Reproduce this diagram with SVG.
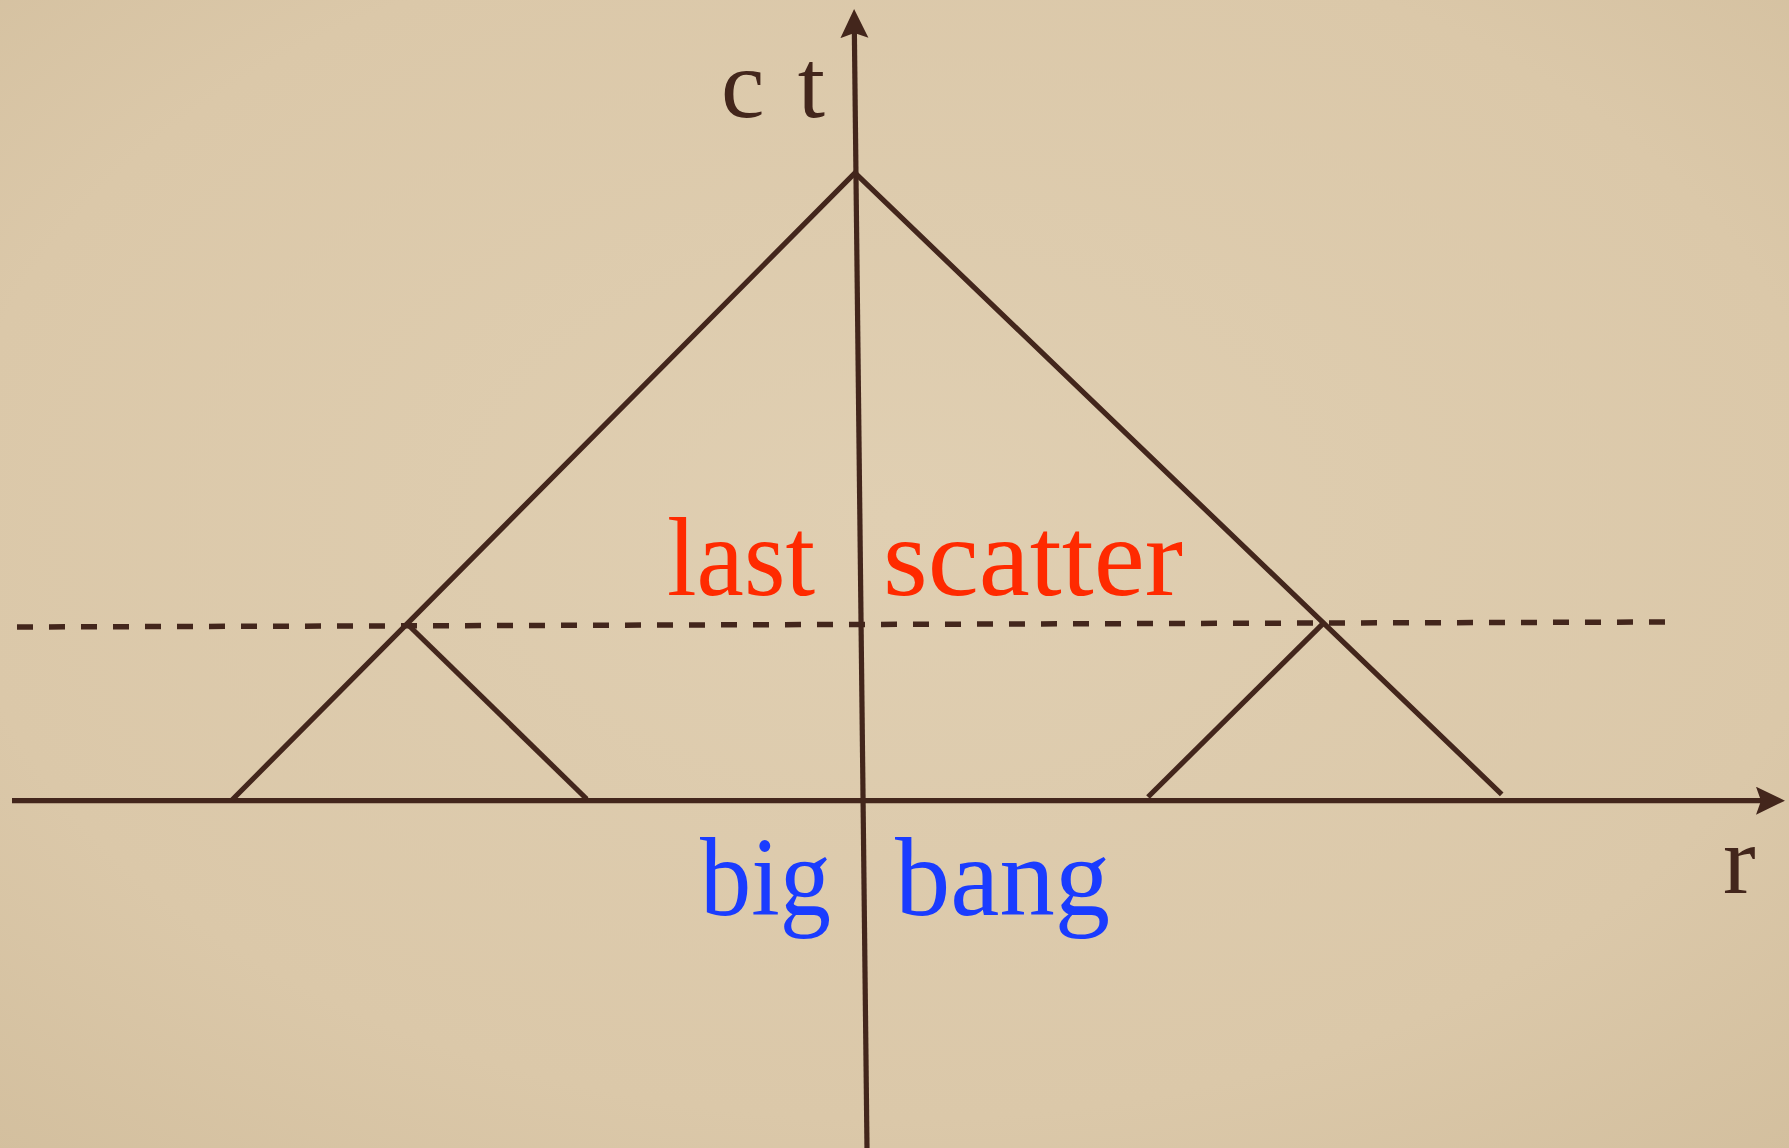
<svg xmlns="http://www.w3.org/2000/svg" width="1789" height="1148" viewBox="0 0 1789 1148">
  <defs>
    <radialGradient id="bg" cx="50%" cy="45%" r="75%">
      <stop offset="0" stop-color="#e0cfb2"/>
      <stop offset="0.7" stop-color="#dbc8a9"/>
      <stop offset="1" stop-color="#d3bf9e"/>
    </radialGradient>
    <marker id="arr" markerUnits="userSpaceOnUse" markerWidth="32" markerHeight="32" refX="20" refY="14" orient="auto">
      <path d="M0,0 L29,14 L0,28 L5,14 z" fill="#43261c"/>
    </marker>
  </defs>
  <style>
    .ln { stroke: #43261c; stroke-width: 5.2; fill: none; stroke-linecap: butt; }
    .dash { stroke: #43261c; stroke-width: 5.5; stroke-dasharray: 16 16; fill: none; }
    .lbl { font-family: "Liberation Serif", "DejaVu Serif", serif; }
    .axis { fill: #43261c; font-size: 98px; }
    .red { fill: #ff2a00; font-size: 112px; }
    .blue { fill: #1a3cff; font-size: 112px; }
  </style>
  <rect x="0" y="0" width="1789" height="1148" fill="url(#bg)"/>

  <g id="connectors">
    <line id="dashed-last-scatter" class="dash" x1="17" y1="627" x2="1665" y2="622"/>
    <line id="r-axis" class="ln" x1="12" y1="800.7" x2="1776" y2="800.7" marker-end="url(#arr)"/>
    <line id="ct-axis" class="ln" x1="867" y1="1148" x2="854.2" y2="18" marker-end="url(#arr)"/>
    <polyline id="light-cone" class="ln" points="232,800 855,173 1501.7,794.3"/>
    <polyline id="left-small-cone" class="ln" points="409.3,626 586.7,799"/>
    <polyline id="right-small-cone" class="ln" points="1148,797 1325,621.7"/>
  </g>

  <g id="label-ct">
    <text class="lbl axis" x="721" y="117" textLength="104" lengthAdjust="spacing">c t</text>
  </g>
  <g id="label-r">
    <text class="lbl axis" x="1723" y="893">r</text>
  </g>
  <g id="label-last-scatter">
    <text class="lbl red" x="667" y="595" textLength="148" lengthAdjust="spacingAndGlyphs">last</text>
    <text class="lbl red" x="883" y="595" textLength="300" lengthAdjust="spacingAndGlyphs">scatter</text>
  </g>
  <g id="label-big-bang">
    <text class="lbl blue" x="700" y="915" textLength="131" lengthAdjust="spacingAndGlyphs">big</text>
    <text class="lbl blue" x="895" y="915" textLength="215" lengthAdjust="spacingAndGlyphs">bang</text>
  </g>
</svg>
